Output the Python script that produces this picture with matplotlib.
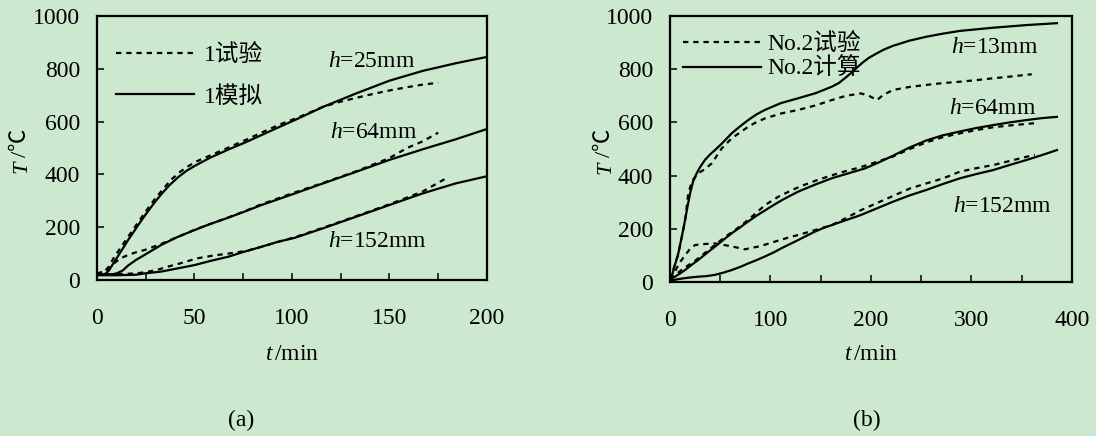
import matplotlib
matplotlib.use("Agg")
import matplotlib.pyplot as plt
from matplotlib.ticker import MultipleLocator

plt.rcParams['font.family'] = ['Liberation Serif', 'Noto Sans CJK SC']
plt.rcParams['mathtext.fontset'] = 'custom'
plt.rcParams['mathtext.rm'] = 'Liberation Serif'
plt.rcParams['mathtext.it'] = 'Liberation Serif:italic'

# ---- panel (a): specimen 1 ----
a25_sim_t = [0, 4, 6, 9, 12.6, 16, 19.5, 23, 26.3, 30, 33, 37, 41.7, 46, 50.3, 58, 67.3, 76, 84.4, 93, 101.5, 116, 133, 150, 167, 184, 200]
a25_sim_T = [20, 22, 35, 70, 112, 152, 190, 228, 262, 298, 325, 358, 390, 414, 433, 463, 494, 521, 549, 578, 606, 656, 707, 755, 792, 821, 845]
a25_exp_t = [0, 3, 6, 8.7, 13, 17.2, 21.4, 25.6, 30, 34.2, 38, 42.7, 47, 51.3, 60, 68.4, 77, 85.5, 94, 102.6, 116, 124.6, 133, 141.7, 150, 158.8, 167, 175]
a25_exp_T = [20, 25, 50, 85, 132, 177, 222, 266, 310, 347, 380, 410, 432, 450, 478, 505, 533, 562, 590, 614, 656, 675, 690, 705, 718, 730, 740, 747]

a64_sim_t = [0, 8, 10, 13, 16, 20, 24.6, 33, 41, 50.3, 58, 67.3, 76, 84.4, 93, 101.5, 116, 133, 150, 167, 184, 200]
a64_sim_T = [20, 22, 25, 35, 55, 76, 96, 133, 162, 190, 212, 236, 260, 284, 306, 328, 366, 410, 455, 495, 533, 572]
a64_exp_t = [0, 5, 8.7, 12, 16, 20, 24.6, 33, 42, 50, 58, 67, 76, 84, 92, 100, 116, 133, 150, 159, 167, 175]
a64_exp_T = [25, 35, 63, 82, 95, 105, 114, 137, 165, 190, 212, 236, 261, 286, 307, 328, 368, 412, 462, 500, 525, 558]

a152_sim_t = [0, 10, 20, 24.6, 33, 40, 50.3, 58, 67.3, 75, 84.4, 92, 101.5, 116, 133, 150, 167, 184, 200]
a152_sim_T = [18, 18, 20, 25, 32, 42, 57, 72, 88, 106, 126, 143, 160, 196, 240, 284, 328, 366, 393]
a152_exp_t = [0, 10, 20, 25, 30.8, 36, 42.7, 51.3, 60, 68.4, 77, 85, 93, 101.5, 116, 133, 150, 167, 179]
a152_exp_T = [20, 22, 25, 30, 38, 50, 63, 82, 93, 101, 111, 127, 145, 162, 198, 242, 287, 335, 385]

# ---- panel (b): specimen No.2 ----
b13_sim_t = [0, 2, 5, 8.3, 12, 15, 18, 20, 23, 26.6, 30, 34.8, 40, 44.8, 52, 61.4, 70, 77.9, 86, 94.5, 110, 127.7, 145, 160.9, 168, 174, 180, 186, 192, 198, 205, 213, 222, 238, 255, 272, 288.6, 305, 321.7, 355, 385]
b13_sim_T = [10, 25, 65, 108, 175, 233, 295, 333, 378, 409, 432, 459, 480, 496, 522, 559, 586, 609, 630, 647, 672, 691, 710, 734, 748, 766, 785, 806, 826, 843, 858, 874, 888, 907, 922, 934, 944, 950, 956, 966, 973]
b13_exp_t = [0, 8, 15, 18.2, 22, 28.2, 35, 41.5, 51.4, 61.4, 70, 78, 86, 94.5, 111, 127.7, 145, 161, 175, 190, 198, 206, 212, 222, 238, 255, 272, 288.6, 305, 321.7, 338, 360]
b13_exp_T = [10, 100, 230, 333, 380, 409, 425, 446, 502, 540, 563, 584, 601, 615, 634, 647, 664, 684, 700, 709, 700, 684, 703, 722, 733, 741, 748, 753, 759, 766, 772, 781]

b64_sim_t = [0, 5, 10, 15, 21, 28.2, 36, 44.8, 53, 61.4, 70, 78, 86, 94.5, 103, 111, 120, 127.7, 145, 161, 177, 194, 208, 222, 238, 255, 271, 288.6, 305, 321.7, 338, 355, 370, 385]
b64_sim_T = [10, 20, 32, 45, 63, 83, 107, 133, 158, 183, 206, 228, 249, 269, 289, 307, 325, 340, 367, 390, 408, 427, 450, 475, 505, 532, 551, 566, 579, 590, 600, 609, 616, 621]
b64_exp_t = [0, 8, 15, 25, 40, 55, 65, 75, 85, 94.5, 108, 120, 130, 145, 160, 175, 190, 206, 222, 238, 255, 272, 290, 306, 322, 342, 363]
b64_exp_T = [10, 35, 55, 80, 125, 170, 196, 225, 257, 289, 321, 343, 360, 381, 400, 417, 432, 452, 472, 499, 525, 545, 560, 572, 582, 590, 597]

b152_sim_t = [0, 10, 20, 28, 36, 44.8, 53, 61.4, 70, 78, 86, 94.5, 103, 111, 119, 127.7, 136, 144, 152, 161, 170, 177, 184, 190, 206, 222, 238, 255, 272, 288.6, 305, 321.7, 338, 355, 370, 385]
b152_sim_T = [5, 12, 17, 20, 22, 27, 35, 45, 57, 70, 82, 96, 111, 127, 142, 158, 174, 189, 202, 214, 226, 235, 244, 252, 277, 302, 325, 346, 369, 390, 406, 421, 440, 459, 477, 496]
b152_exp_t = [0, 5, 10, 15, 20, 25, 35, 44.8, 60, 74.6, 90, 104.5, 116, 127.7, 145, 161, 175, 190, 209, 239, 272, 288.6, 305, 322, 338, 355, 363]
b152_exp_T = [10, 40, 75, 100, 125, 139, 143, 145, 135, 123, 135, 152, 165, 177, 196, 214, 240, 270, 302, 352, 390, 415, 428, 440, 455, 471, 478]

bg = '#CCE8CF'
dash = (0, (2.4, 2.2))
lw = 1.6
fs = 17

fig = plt.figure(figsize=(10.96, 4.36), dpi=100, facecolor=bg)
ax1 = fig.add_axes([0.0885, 0.3578, 0.3558, 0.6055])
ax2 = fig.add_axes([0.6113, 0.3532, 0.3668, 0.6101])

for ax in (ax1, ax2):
    ax.set_facecolor(bg)
    for s in ax.spines.values():
        s.set_linewidth(1.6)
    ax.set_ylim(0, 1000)
    ax.set_yticks(range(0, 1001, 200))
    ax.tick_params(which='both', direction='in', length=5, width=1.1,
                   top=False, right=False, labelsize=fs)
    ax.tick_params(axis='x', which='major', pad=20)
    ax.tick_params(axis='y', pad=12)

ax1.set_xlim(0, 200)
ax1.set_xticks([0, 50, 100, 150, 200])
ax1.xaxis.set_minor_locator(MultipleLocator(25))
ax2.set_xlim(0, 400)
ax2.set_xticks([0, 100, 200, 300, 400])
ax2.xaxis.set_minor_locator(MultipleLocator(50))

# panel (a)
e1, = ax1.plot(a25_exp_t, a25_exp_T, color='k', lw=lw, ls=dash)
s1, = ax1.plot(a25_sim_t, a25_sim_T, color='k', lw=lw)
ax1.plot(a64_exp_t, a64_exp_T, color='k', lw=lw, ls=dash)
ax1.plot(a64_sim_t, a64_sim_T, color='k', lw=lw)
ax1.plot(a152_exp_t, a152_exp_T, color='k', lw=lw, ls=dash)
ax1.plot(a152_sim_t, a152_sim_T, color='k', lw=lw)
ax1.legend([e1, s1], ['1试验', '1模拟'], loc='upper left', bbox_to_anchor=(0.05, 0.895),
           frameon=False, fontsize=fs, handlelength=3.3, handletextpad=0.4,
           labelspacing=0.85, borderpad=0, borderaxespad=0)
ax1.text(118.5, 826, '$h$=25mm', fontsize=fs, va='center')
ax1.text(119.5, 557, '$h$=64mm', fontsize=fs, va='center')
ax1.text(118.5, 144, '$h$=152mm', fontsize=fs, va='center')

# panel (b)
e2, = ax2.plot(b13_exp_t, b13_exp_T, color='k', lw=lw, ls=dash)
s2, = ax2.plot(b13_sim_t, b13_sim_T, color='k', lw=lw)
ax2.plot(b64_exp_t, b64_exp_T, color='k', lw=lw, ls=dash)
ax2.plot(b64_sim_t, b64_sim_T, color='k', lw=lw)
ax2.plot(b152_exp_t, b152_exp_T, color='k', lw=lw, ls=dash)
ax2.plot(b152_sim_t, b152_sim_T, color='k', lw=lw)
ax2.legend([e2, s2], ['No.2试验', 'No.2计算'], loc='upper left', bbox_to_anchor=(0.032, 0.935),
           frameon=False, fontsize=fs, handlelength=3.3, handletextpad=0.3,
           labelspacing=0.12, borderpad=0, borderaxespad=0)
ax2.text(279.6, 880, '$h$=13mm', fontsize=fs, va='center')
ax2.text(277.6, 654, '$h$=64mm', fontsize=fs, va='center')
ax2.text(281.6, 282, '$h$=152mm', fontsize=fs, va='center')

# axis titles: italic T sits below the "/℃" part (rotated)
W, H = 1096, 436
for x0, yT, yC in [(22, 167, 143), (606, 168, 143)]:
    fig.text(x0 / W, 1 - yT / H, 'T', style='italic', fontsize=16, rotation=90, ha='center', va='center')
    fig.text(x0 / W, 1 - yC / H, '/℃', fontsize=16, rotation=90, ha='center', va='center')
fig.text(292 / W, 1 - 354 / H, r'$t\,$/min', fontsize=fs, ha='center', va='center')
fig.text(871 / W, 1 - 354 / H, r'$t\,$/min', fontsize=fs, ha='center', va='center')
fig.text(241 / W, 1 - 420 / H, '(a)', fontsize=fs, ha='center', va='center')
fig.text(867 / W, 1 - 420 / H, '(b)', fontsize=fs, ha='center', va='center')

fig.savefig('out.png', dpi=100, facecolor=bg)
